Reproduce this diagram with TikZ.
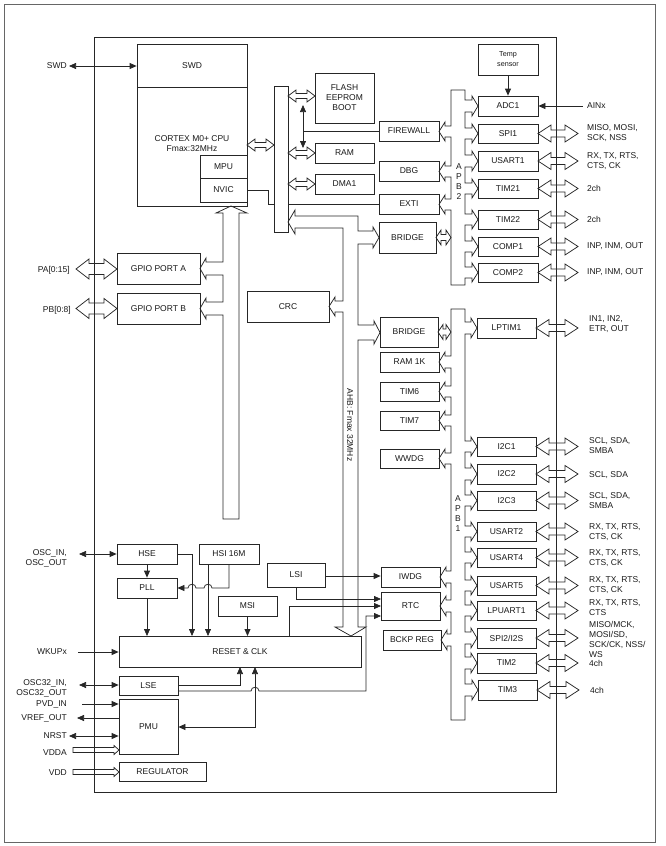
\documentclass[tikz,border=0pt]{standalone}
\usepackage{fontspec}
\setmainfont{Liberation Sans}
\usetikzlibrary{arrows.meta}
\newcommand\fs{\fontsize{8.5}{10}\selectfont}
\newcommand\fsm{\fontsize{7.2}{8.5}\selectfont}
\tikzset{
 ln/.style={draw=black!85, line width=0.75pt, line join=miter},
 blk/.style={draw=black!85, line width=0.75pt, fill=white, inner sep=0pt, font=\fs, align=center, text=black!90},
 lbl/.style={inner sep=0pt, font=\fs, text=black!90},
 arr/.style={ln, ->},
 darr/.style={ln, <->},
 bR/.style n args={4}{insert path={-- (#1,#3) -- ({#2-6},#3) -- ({#2-6},{#3+4*sign(#3-#4)}) -- (#2,{(#3+#4)/2}) -- ({#2-6},{#4+4*sign(#4-#3)}) -- ({#2-6},#4) -- (#1,#4)}},
 bL/.style n args={4}{insert path={-- (#1,#3) -- ({#2+6},#3) -- ({#2+6},{#3+4*sign(#3-#4)}) -- (#2,{(#3+#4)/2}) -- ({#2+6},{#4+4*sign(#4-#3)}) -- ({#2+6},#4) -- (#1,#4)}},
}
\newcommand\blk[6]{\node[blk, minimum width={#4-#2}, minimum height={#5-#3}] (#1) at ({(#2+#4)/2},{(#3+#5)/2}) {#6};}
% hollow double arrow: x1 x2 y shaft head len
\newcommand\hda[6]{\draw[ln] (#1,#3) -- ({#1+#6},{#3-#5}) -- ({#1+#6},{#3-#4}) -- ({#2-#6},{#3-#4}) -- ({#2-#6},{#3-#5}) -- (#2,#3) -- ({#2-#6},{#3+#5}) -- ({#2-#6},{#3+#4}) -- ({#1+#6},{#3+#4}) -- ({#1+#6},{#3+#5}) -- cycle;}
% hollow single arrow pointing to x2
\newcommand\hsa[6]{\draw[ln] (#1,{#3-#4}) -- ({#2-#6},{#3-#4}) -- ({#2-#6},{#3-#5}) -- (#2,#3) -- ({#2-#6},{#3+#5}) -- ({#2-#6},{#3+#4}) -- (#1,{#3+#4}) -- cycle;}
\begin{document}
\begin{tikzpicture}[x=1pt,y=-1pt,>={Triangle[length=7pt,width=6pt]}]
\useasboundingbox (0,0) rectangle (665,846);
\draw[black!60, line width=0.6pt] (4,4) rectangle (655,842);
\draw[ln] (94,37) rectangle (556,792);

% ---- CPU ----
\blk{cpu}{137}{44}{247}{206}{}
\draw[ln] (137,87) -- (247,87);
\node[lbl] (cpuswd) at (192,66) {SWD};
\node[lbl, align=center] (cpulbl) at (192,143.5) {CORTEX M0+ CPU\\Fmax:32MHz};
\blk{mpu}{200}{155}{247}{178}{MPU}
\blk{nvic}{200}{178}{247}{202}{NVIC}

% ---- AHB matrix side ----
\blk{flash}{315}{73}{374}{123}{FLASH\\EEPROM\\BOOT}
\blk{ram}{315}{143}{374}{163}{RAM}
\blk{dma}{315}{174}{374}{194}{DMA1}
\blk{firewall}{379}{121}{439}{141}{FIREWALL}
\blk{dbg}{379}{161}{439}{181}{DBG}
\blk{exti}{379}{194}{439}{214}{EXTI}
\draw[ln] (nvic.east) -- (268,190) -- (268,204) -- (exti.west);
\blk{bar}{274}{86}{288}{232}{}
\blk{bridgeA}{379}{222}{436}{253}{BRIDGE}
\hda{247}{274}{145}{2.5}{6}{8}
\hda{288}{315}{96}{2.5}{6}{8}
\hda{288}{315}{153}{2.5}{6}{8}
\hda{288}{315}{184}{2.5}{6}{8}
\coordinate (fwup) at (303,105);
\coordinate (fwdn) at (303,148);
\draw[darr] (fwup) -- (fwdn);
\draw[ln] (firewall.west) -- (303,131);

% ---- SWD ----
\node[lbl, anchor=east] (swdlbl) at (67,66) {SWD};
\coordinate (swdend) at (69,66);
\draw[darr] (swdend) -- (cpu.west |- swdend);

% ---- GPIO ----
\blk{gpioa}{117}{253}{200}{284}{GPIO PORT A}
\blk{gpiob}{117}{293}{200}{324}{GPIO PORT B}
\node[lbl, anchor=east] (palbl) at (70,270) {PA[0:15]};
\node[lbl, anchor=east] (pblbl) at (71,310) {PB[0:8]};
\hda{76}{117}{269}{5.5}{10}{13}
\hda{76}{117}{308.5}{5.5}{10}{13}
\draw[ln] (239,213) -- (247,213) -- (231,206) -- (216,213) -- (223,213)
  [bL={223}{200}{262}{275}]
  [bL={223}{200}{302}{315}]
  -- (223,519) -- (239,519) -- cycle;

% ---- CRC and AHB channel ----
\blk{crc}{247}{291}{329}{322}{CRC}
\blk{bridgeB}{380}{317}{438}{347}{BRIDGE}
\draw[ln] (295,216) -- (358,216)
  [bR={358}{379}{231}{244}]
  [bR={358}{380}{325}{340}]
  -- (358,627) -- (366,627) -- (351,636) -- (335,627) -- (343,627)
  [bL={343}{329}{312}{301}]
  -- (343,228) -- (295,228) -- (295,234) -- (288,222) -- (295,210) -- cycle;
\node[lbl, rotate=-90] (ahblbl) at (350,425) {AHB: Fmax 32MHz};

% ---- APB2 ----
\blk{temp}{478}{44}{538}{75}{\fsm Temp\\\fsm sensor}
\blk{adc}{478}{96}{538}{116}{ADC1}
\blk{spia}{478}{124}{538}{143}{SPI1}
\blk{usarta}{478}{151}{538}{171}{USART1}
\blk{timtwoone}{478}{179}{538}{198}{TIM21}
\blk{timtwotwo}{478}{210}{538}{229}{TIM22}
\blk{compa}{478}{237}{538}{256}{COMP1}
\blk{compb}{478}{263}{538}{282}{COMP2}
\draw[ln] (451,90) -- (465,90)
  [bR={465}{478}{100}{112}]
  [bR={465}{478}{128}{139}]
  [bR={465}{478}{155}{167}]
  [bR={465}{478}{183}{194}]
  [bR={465}{478}{214}{225}]
  [bR={465}{478}{241}{252}]
  [bR={465}{478}{267}{278}]
  -- (465,285) -- (451,285)
  [bL={451}{439}{210}{199}]
  [bL={451}{439}{177}{166}]
  [bL={451}{439}{137}{126}]
  -- cycle;
\node[lbl, align=center] (apbtwo) at (459,182) {A\\P\\B\\2};
\hda{436}{451}{237.5}{3}{7.5}{5}
\draw[arr] (temp.south) -- (adc.north);
\coordinate (ainend) at (583,106);
\draw[arr] (ainend) -- (adc.east);
\node[lbl, anchor=west] (ainlbl) at (587,106) {AINx};
\hda{538}{578}{133.5}{3.5}{8.5}{13}
\hda{538}{578}{161}{3.5}{8.5}{13}
\hda{538}{578}{188.5}{3.5}{8.5}{13}
\hda{538}{578}{219.5}{3.5}{8.5}{13}
\hda{538}{578}{246.5}{3.5}{8.5}{13}
\hda{538}{578}{272.5}{3.5}{8.5}{13}
\node[lbl, anchor=west, align=left] (l1) at (587,133) {MISO, MOSI,\\SCK, NSS};
\node[lbl, anchor=west, align=left] (l2) at (587,161) {RX, TX, RTS,\\CTS, CK};
\node[lbl, anchor=west] (l3) at (587,188) {2ch};
\node[lbl, anchor=west] (l4) at (587,219) {2ch};
\node[lbl, anchor=west] (l5) at (587,246) {INP, INM, OUT};
\node[lbl, anchor=west] (l6) at (587,272) {INP, INM, OUT};

% ---- APB1 ----
\blk{ramk}{380}{352}{439}{372}{RAM 1K}
\blk{timsix}{380}{382}{439}{401}{TIM6}
\blk{timseven}{380}{411}{439}{430}{TIM7}
\blk{wwdg}{380}{449}{439}{468}{WWDG}
\blk{iwdg}{381}{567}{440}{587}{IWDG}
\blk{rtc}{381}{592}{440}{620}{RTC}
\blk{bckp}{383}{630}{441}{650}{BCKP REG}
\blk{lptim}{477}{318}{536}{338}{LPTIM1}
\blk{ica}{477}{437}{536}{456}{I2C1}
\blk{icb}{477}{464}{536}{484}{I2C2}
\blk{icc}{477}{491}{536}{510}{I2C3}
\blk{usartb}{477}{522}{536}{541}{USART2}
\blk{usartd}{477}{548}{536}{567}{USART4}
\blk{usarte}{477}{576}{536}{595}{USART5}
\blk{lpuart}{477}{601}{536}{620}{LPUART1}
\blk{spib}{477}{628}{536}{648}{SPI2/I2S}
\blk{timtwo}{477}{653}{536}{673}{TIM2}
\blk{timthree}{478}{680}{537}{700}{TIM3}
\draw[ln] (451,309) -- (465,309)
  [bR={465}{477}{322}{334}]
  [bR={465}{477}{441}{452}]
  [bR={465}{477}{468}{480}]
  [bR={465}{477}{495}{506}]
  [bR={465}{477}{526}{537}]
  [bR={465}{477}{552}{563}]
  [bR={465}{477}{580}{591}]
  [bR={465}{477}{605}{616}]
  [bR={465}{477}{632}{644}]
  [bR={465}{477}{657}{669}]
  [bR={465}{478}{684}{696}]
  -- (465,720) -- (451,720)
  [bL={451}{441}{646}{634}]
  [bL={451}{440}{612}{600}]
  [bL={451}{440}{583}{571}]
  [bL={451}{439}{464}{453}]
  [bL={451}{439}{426}{415}]
  [bL={451}{439}{397}{386}]
  [bL={451}{439}{368}{356}]
  -- cycle;
\node[lbl, align=center] (apbone) at (458,514) {A\\P\\B\\1};
\hda{438}{451}{332}{3}{7.5}{5}
\hda{536}{578}{328}{3.5}{8.5}{13}
\hda{536}{578}{446.5}{3.5}{8.5}{13}
\hda{536}{578}{474}{3.5}{8.5}{13}
\hda{536}{578}{500.5}{3.5}{8.5}{13}
\hda{536}{578}{531.5}{3.5}{8.5}{13}
\hda{536}{578}{557.5}{3.5}{8.5}{13}
\hda{536}{578}{585.5}{3.5}{8.5}{13}
\hda{536}{578}{610.5}{3.5}{8.5}{13}
\hda{536}{578}{638}{3.5}{8.5}{13}
\hda{536}{578}{663}{3.5}{8.5}{13}
\hda{537}{579}{690}{3.5}{8.5}{13}
\node[lbl, anchor=west, align=left] (m1) at (589,324) {IN1, IN2,\\ETR, OUT};
\node[lbl, anchor=west, align=left] (m2) at (589,446) {SCL, SDA,\\SMBA};
\node[lbl, anchor=west] (m3) at (589,475) {SCL, SDA};
\node[lbl, anchor=west, align=left] (m4) at (589,501) {SCL, SDA,\\SMBA};
\node[lbl, anchor=west, align=left] (m5) at (589,532) {RX, TX, RTS,\\CTS, CK};
\node[lbl, anchor=west, align=left] (m6) at (589,558) {RX, TX, RTS,\\CTS, CK};
\node[lbl, anchor=west, align=left] (m7) at (589,585) {RX, TX, RTS,\\CTS, CK};
\node[lbl, anchor=west, align=left] (m8) at (589,608) {RX, TX, RTS,\\CTS};
\node[lbl, anchor=west, align=left] (m9) at (589,639) {MISO/MCK,\\MOSI/SD,\\SCK/CK, NSS/\\WS};
\node[lbl, anchor=west] (m10) at (589,663) {4ch};
\node[lbl, anchor=west] (m11) at (590,690) {4ch};

% ---- clocks ----
\blk{hse}{117}{544}{177}{564}{HSE}
\blk{hsi}{199}{544}{259}{564}{HSI 16M}
\blk{pll}{117}{578}{177}{598}{PLL}
\blk{lsi}{267}{563}{325}{587}{LSI}
\blk{msi}{218}{596}{277}{616}{MSI}
\blk{reset}{119}{636}{361}{667}{RESET \& CLK}
\blk{lse}{119}{676}{178}{695}{LSE}
\blk{pmu}{119}{699}{178}{754}{PMU}
\blk{reg}{119}{762}{206}{781}{REGULATOR}

\draw[arr] (hse.south) -- (pll.north);
\draw[arr] (hse.east) -- (192,554) -- (192,636);
\draw[arr] (208,564) -- (208,636);
\draw[arr] (229,564) -- (229,588) -- (212,588) .. controls (212,583) and (204,583) .. (204,588)
  -- (196,588) .. controls (196,583) and (188,583) .. (188,588) -- (pll.east);
\draw[arr] (pll.south) -- (147,636);
\draw[arr] (msi.south) -- (247.5,636);
\draw[arr] (325,576) -- (iwdg.west |- 0,576);
\draw[arr] (296,587) -- (296,599) -- (381,599);
\draw[arr] (289,636) -- (289,606) -- (381,606);
\draw[arr] (178,691) -- (251,691) .. controls (251,686) and (259,686) .. (259,691) -- (366,691) -- (366,616) -- (381,616);
\draw[arr] (178,685) -- (240,685) -- (240,667);
\draw[darr] (255,667) -- (255,727) -- (pmu.east |- 0,727);

% ---- left signals ----
\node[lbl, anchor=east, align=right] (osclbl) at (67,558) {OSC\_IN,\\OSC\_OUT};
\coordinate (oscend) at (79,554);
\draw[darr] (oscend) -- (hse.west |- oscend);
\node[lbl, anchor=east] (wkuplbl) at (67,652) {WKUPx};
\coordinate (wkupend) at (78,652);
\draw[arr] (wkupend) -- (reset.west |- wkupend);
\node[lbl, anchor=east, align=right] (osclsl) at (67,688) {OSC32\_IN,\\OSC32\_OUT};
\coordinate (lseend) at (79,685);
\draw[darr] (lseend) -- (lse.west |- lseend);
\node[lbl, anchor=east] (pvdlbl) at (67,704) {PVD\_IN};
\coordinate (pvdend) at (82,704);
\draw[arr] (pvdend) -- (pmu.west |- pvdend);
\node[lbl, anchor=east] (vreflbl) at (67,718) {VREF\_OUT};
\coordinate (vrefend) at (77,718);
\draw[arr] (pmu.west |- vrefend) -- (vrefend);
\node[lbl, anchor=east] (nrstlbl) at (67,736) {NRST};
\coordinate (nrstend) at (69,736);
\draw[darr] (nrstend) -- (pmu.west |- nrstend);
\node[lbl, anchor=east] (vddalbl) at (67,753) {VDDA};
\hsa{73}{119}{750}{2.5}{4.5}{5}
\node[lbl, anchor=east] (vddlbl) at (67,773) {VDD};
\hsa{73}{119}{772}{2.5}{4.5}{5}
\end{tikzpicture}
\end{document}
